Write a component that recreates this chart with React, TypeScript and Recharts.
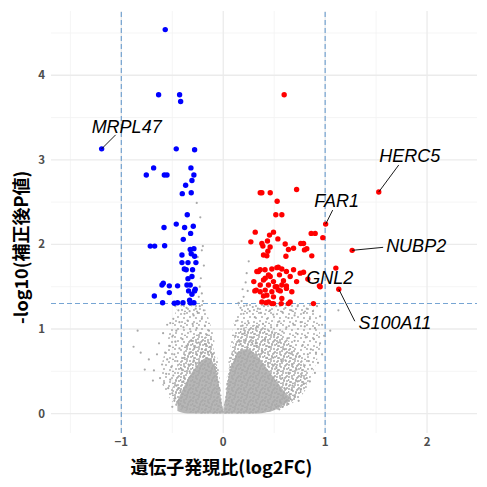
import React from 'react';
import { ComposedChart, Scatter, Area, XAxis, YAxis, ReferenceLine, CartesianGrid, Label } from 'recharts';

// cut-offs used for colouring and the dashed guide lines
const FC_CUTOFF = 1;
const P_CUTOFF = 0.05;

const xTicks = [-1, 0, 1, 2];
const yTicks = [0, 1, 2, 3, 4];
const xMinor = [-1.5, -0.5, 0.5, 1.5];
const yMinor = [0.5, 1.5, 2.5, 3.5, 4.5];

// [log2FC, -log10(padj)]
const downGenes: [number, number][] = [
  [-0.569, 4.54], [-0.634, 3.77], [-0.428, 3.77], [-0.418, 3.69], [-0.461, 3.13], [-0.281, 3.12],
  [-0.683, 2.905], [-0.755, 2.82], [-0.578, 2.82], [-0.552, 2.82], [-0.317, 2.905], [-0.288, 2.82],
  [-0.307, 2.755], [-0.369, 2.7], [-0.314, 2.61], [-0.402, 2.6], [-0.353, 2.35], [-0.461, 2.24],
  [-0.581, 2.2], [-0.379, 2.2], [-0.294, 2.215], [-0.32, 2.13], [-0.392, 2.06], [-0.716, 1.98],
  [-0.673, 1.98], [-0.575, 1.985], [-0.324, 1.94], [-0.288, 1.95], [-0.314, 1.89], [-0.405, 1.875],
  [-0.281, 1.86], [-0.405, 1.785], [-0.346, 1.785], [-0.268, 1.785], [-0.382, 1.71], [-0.363, 1.7],
  [-0.301, 1.7], [-0.307, 1.62], [-0.346, 1.595], [-0.588, 1.54], [-0.601, 1.52], [-0.529, 1.51],
  [-0.448, 1.51], [-0.356, 1.52], [-0.324, 1.52], [-0.34, 1.45], [-0.281, 1.45], [-0.275, 1.47],
  [-0.529, 1.43], [-0.676, 1.39], [-0.307, 1.41], [-0.595, 1.31], [-0.48, 1.305], [-0.448, 1.31],
  [-0.395, 1.31], [-0.324, 1.31], [-0.288, 1.31], [-0.33, 1.34],
];

const upGenes: [number, number][] = [
  [0.598, 3.77], [0.72, 2.65], [0.363, 2.61], [0.379, 2.61], [0.461, 2.61], [0.529, 2.51],
  [0.516, 2.35], [0.575, 2.35], [0.314, 2.145], [0.493, 2.145], [0.454, 2.11], [0.863, 2.13],
  [0.902, 2.13], [0.271, 2.03], [0.379, 2.01], [0.434, 2.04], [0.536, 2.065], [0.608, 2.005],
  [0.761, 2.01], [0.788, 2.01], [0.977, 2.08], [0.389, 1.98], [0.438, 1.92], [0.46, 1.97],
  [0.69, 1.955], [0.797, 1.935], [0.82, 1.95], [0.428, 1.865], [0.395, 1.875], [0.615, 1.86],
  [0.869, 1.865], [0.64, 1.94], [0.346, 1.68], [0.41, 1.7], [0.477, 1.71], [0.526, 1.725],
  [0.575, 1.71], [0.62, 1.68], [0.69, 1.7], [0.444, 1.64], [0.552, 1.64], [0.657, 1.62],
  [0.395, 1.58], [0.493, 1.56], [0.591, 1.57], [0.363, 1.52], [0.444, 1.52], [0.526, 1.5],
  [0.62, 1.51], [0.324, 1.46], [0.412, 1.46], [0.477, 1.44], [0.56, 1.45], [0.673, 1.44],
  [0.428, 1.4], [0.493, 1.38], [0.575, 1.36], [0.477, 1.3], [0.64, 1.3], [0.755, 1.66],
  [0.72, 1.56], [0.33, 1.68], [0.3, 1.56], [0.31, 1.45], [0.395, 1.39], [0.42, 1.31],
  [0.379, 1.32], [0.444, 1.32], [0.493, 1.3], [0.569, 1.3], [0.657, 1.32], [0.885, 1.3],
  [0.363, 1.7], [0.54, 1.73], [0.461, 1.62], [0.412, 1.6], [0.788, 1.67], [0.83, 1.59],
  [0.951, 1.5], [0.944, 1.51], [0.51, 1.5], [0.575, 1.52], [0.363, 1.44], [0.54, 1.46],
  [0.62, 1.48],
];

const otherGenes: [number, number][] = [
  // left lobe
  [-0.47, 1.27], [-0.44, 1.22], [-0.41, 1.28], [-0.38, 1.18], [-0.36, 1.25], [-0.33, 1.21],
  [-0.31, 1.28], [-0.29, 1.16], [-0.27, 1.24], [-0.25, 1.19], [-0.23, 1.27], [-0.21, 1.12],
  [-0.19, 1.22], [-0.43, 1.08], [-0.39, 1.02], [-0.35, 1.1], [-0.32, 0.97], [-0.3, 1.06],
  [-0.26, 1.01], [-0.22, 0.95], [-0.18, 1.04], [-0.16, 0.93], [-0.49, 1.12], [-0.46, 0.98],
  [-0.5, 0.91], [-0.14, 0.98], [-0.12, 0.88], [-0.6, 0.58], [-0.57, 0.72], [-0.55, 0.64],
  [-0.53, 0.8], [-0.51, 0.55], [-0.48, 0.7], [-0.47, 0.85], [-0.45, 0.62], [-0.43, 0.77],
  [-0.41, 0.53], [-0.4, 0.88], [-0.38, 0.66], [-0.36, 0.8], [-0.34, 0.58], [-0.33, 0.72],
  [-0.31, 0.86], [-0.29, 0.63], [-0.28, 0.78], [-0.26, 0.7], [-0.24, 0.84], [-0.23, 0.6],
  [-0.21, 0.76], [-0.19, 0.68], [-0.17, 0.82], [-0.15, 0.73], [-0.13, 0.79], [-0.11, 0.7],
  [-0.09, 0.64], [-0.08, 0.55], [-0.62, 0.42], [-0.58, 0.36], [-0.56, 0.47], [-0.54, 0.3],
  [-0.52, 0.4], [-0.5, 0.24], [-0.49, 0.45], [-0.47, 0.18], [-0.46, 0.33], [-0.44, 0.12],
  [-0.42, 0.27], [-0.4, 0.08], [-0.38, 0.42], [-0.84, 0.98], [-0.88, 0.79], [-0.81, 0.72],
  [-0.77, 0.52], [-0.68, 0.51], [-0.69, 0.39], [-0.73, 0.64], [-0.65, 0.7], [-0.63, 0.83],
  [-0.59, 0.95], [-0.55, 1.05], [-0.52, 1.07], [-0.5, 0.08], [-0.48, 0.15], [-0.44, 0.3],
  [-0.39, 0.38], [-0.33, 0.5], [-0.27, 0.6], [-0.22, 0.72], [-0.17, 0.75], [-0.12, 0.72],
  [-0.07, 0.5], [-0.04, 0.3],
  // small fold change but significant
  [-0.26, 2.49], [-0.225, 2.32], [-0.2, 1.98], [-0.21, 1.93], [-0.22, 1.6], [-0.23, 1.5],
  [-0.21, 1.42], [-0.24, 1.38], [-0.19, 1.75], [-0.2, 1.33], [-0.25, 1.85], [0.25, 1.8],
  [0.22, 1.55], [0.24, 1.45], [0.2, 1.38], [0.18, 1.33], [0.23, 1.66], [0.19, 1.47], [0.15, 1.31],
  // right lobe
  [0.17, 1.25], [0.2, 1.18], [0.23, 1.28], [0.26, 1.21], [0.29, 1.26], [0.31, 1.14], [0.34, 1.24],
  [0.37, 1.19], [0.4, 1.27], [0.43, 1.12], [0.46, 1.22], [0.49, 1.17], [0.52, 1.27], [0.55, 1.09],
  [0.58, 1.2], [0.61, 1.25], [0.64, 1.13], [0.67, 1.22], [0.7, 1.16], [0.73, 1.27], [0.76, 1.08],
  [0.79, 1.19], [0.82, 1.24], [0.85, 1.12], [0.88, 1.21], [0.92, 1.27], [0.95, 1.15], [0.14, 1.1],
  [0.19, 1.04], [0.25, 1.07], [0.33, 1.03], [0.39, 1.06], [0.47, 1.02], [0.53, 1.05], [0.62, 1.02],
  [0.69, 1.05], [0.8, 1.03], [0.9, 1.01], [0.97, 1.05], [1.13, 1.22], [1.05, 0.98], [0.12, 0.92],
  [0.16, 0.85], [0.21, 0.95], [0.24, 0.78], [0.28, 0.9], [0.32, 0.83], [0.36, 0.96], [0.41, 0.88],
  [0.45, 0.79], [0.5, 0.93], [0.54, 0.84], [0.58, 0.97], [0.6, 0.76], [0.63, 0.89], [0.66, 0.71],
  [0.7, 0.86], [0.73, 0.94], [0.75, 0.68], [0.78, 0.81], [0.81, 0.9], [0.84, 0.62], [0.86, 0.76],
  [0.89, 0.88], [0.93, 0.6], [0.95, 0.83], [0.99, 0.92], [0.68, 0.58], [0.72, 0.52], [0.77, 0.45],
  [0.8, 0.57], [0.87, 0.53], [0.64, 0.48], [0.57, 0.62], [0.49, 0.66], [0.35, 0.7], [0.3, 0.62],
  [0.44, 0.6], [0.52, 0.55], [0.61, 0.63], [0.83, 0.7], [0.91, 0.72], [0.97, 0.7], [0.6, 0.3],
  [0.65, 0.22], [0.68, 0.33], [0.7, 0.2], [0.73, 0.38], [0.76, 0.28], [0.79, 0.35], [0.82, 0.42],
  [0.85, 0.38], [0.74, 0.15], [0.63, 0.12], [0.58, 0.08], [0.55, 0.05], [0.9, 0.48], [0.04, 0.35],
  [0.07, 0.55], [0.12, 0.72], [0.17, 0.82], [0.22, 0.86], [0.28, 0.84], [0.33, 0.8], [0.38, 0.74],
  [0.43, 0.66], [0.48, 0.58], [0.53, 0.5], [0.58, 0.42], [0.62, 0.35], [0.67, 0.28], [0.56, 0.14],
  [0.6, 0.18], [0.66, 0.17], [0.52, 0.08],
];

// labelled genes
const labelGenes = ['MRPL47', 'HERC5', 'FAR1', 'NUBP2', 'GNL2', 'S100A11'];
const labelFC = [-1.193, 1.526, 1.005, 1.265, 1.105, 1.134];
const labelLogP = [3.13, 2.62, 2.24, 1.93, 1.72, 1.47];

// outlines of the non-significant bulk: sparse edge, busier middle, solid core
const cloudX = [-0.6, -0.55, -0.5, -0.45, -0.4, -0.3, -0.2, -0.15, -0.1, -0.05, -0.02, 0, 0.02, 0.05, 0.1, 0.15, 0.3, 0.45, 0.55, 0.65, 0.75, 0.85, 0.9, 0.95];
const cloudLow = [0.35, 0.22, 0.14, 0.07, 0.03, 0, 0, 0, 0, 0, 0, 0, 0, 0, 0, 0, 0, 0.02, 0.06, 0.12, 0.22, 0.4, 0.55, 0.75];
const cloudHigh = [0.6, 0.85, 1.1, 1.25, 1.3, 1.3, 1.3, 1.15, 0.95, 0.6, 0.25, 0.03, 0.25, 0.6, 1.05, 1.3, 1.3, 1.3, 1.3, 1.3, 1.3, 1.3, 1.2, 1.05];
const midX = [-0.5, -0.45, -0.35, -0.25, -0.15, -0.1, -0.05, -0.02, 0, 0.02, 0.05, 0.1, 0.15, 0.3, 0.45, 0.55, 0.65, 0.75, 0.82];
const midLow = [0.2, 0.08, 0.02, 0, 0, 0, 0, 0, 0, 0, 0, 0, 0, 0, 0.02, 0.05, 0.1, 0.18, 0.3];
const midHigh = [0.3, 0.55, 0.85, 0.95, 0.9, 0.8, 0.5, 0.2, 0.03, 0.2, 0.5, 0.85, 1.0, 1.05, 1.0, 0.95, 0.85, 0.7, 0.5];
const coreX = [-0.45, -0.4, -0.35, -0.3, -0.25, -0.2, -0.15, -0.1, -0.05, -0.02, 0, 0.02, 0.05, 0.1, 0.15, 0.2, 0.25, 0.3, 0.35, 0.4, 0.45, 0.5, 0.55, 0.6, 0.65];
const coreLow = [0.03, 0.01, 0, 0, 0, 0, 0, 0, 0, 0, 0, 0, 0, 0, 0, 0, 0, 0, 0, 0.01, 0.02, 0.04, 0.07, 0.11, 0.15];
const coreHigh = [0.15, 0.28, 0.4, 0.5, 0.58, 0.64, 0.66, 0.6, 0.4, 0.16, 0.03, 0.16, 0.42, 0.62, 0.72, 0.76, 0.76, 0.72, 0.66, 0.58, 0.5, 0.42, 0.34, 0.26, 0.2];

// where each gene name sits relative to its point (px)
const labelLayout: Record<string, { tx: number; ty: number; lx?: number; ly?: number }> = {
  MRPL47: { tx: 25, ty: -16, lx: 14, ly: -14 },
  HERC5: { tx: 31, ty: -30, lx: 20, ly: -27 },
  FAR1: { tx: 11, ty: -17, lx: 7, ly: -14 },
  NUBP2: { tx: 64, ty: 2, lx: 31, ly: -3 },
  GNL2: { tx: -6, ty: 16 },
  S100A11: { tx: 56, ty: 40, lx: 16, ly: 32 },
};

// speckle tiles used to texture the grey cloud
const sparseSpecks = [[1, 2], [7, 1], [4, 6], [10, 5], [2, 10], [8, 9], [5, 11.5]];
const denseSpecks = [[2, 1], [6, 3], [10, 1], [1, 5], [5, 7], [9, 6], [3, 10], [7, 11], [11, 9], [4, 4], [8, 8], [11, 4], [0.5, 8]];

const JP_FONT = '"Noto Sans CJK JP", "Noto Sans", sans-serif';
const LABEL_FONT = '"Liberation Sans", Arial, sans-serif';
const GREY = '#a9a9a9';
const GUIDE = '#5f95cb';

const toPoints = (list: [number, number][]) => list.map(([x, y]) => ({ x, y }));
const toRange = (xs: number[], lo: number[], hi: number[]) => xs.map((x, i) => ({ x, range: [lo[i], hi[i]] }));
const cloudData = toRange(cloudX, cloudLow, cloudHigh);
const midData = toRange(midX, midLow, midHigh);
const coreData = toRange(coreX, coreLow, coreHigh);
const labelData = labelGenes.map((gene, i) => ({ gene, x: labelFC[i], y: labelLogP[i] }));

const dot = (r: number, fill: string) => (p: any) => <circle cx={p.cx} cy={p.cy} r={r} fill={fill} />;

const LabelledDot = (p: any) => {
  const { cx, cy, payload } = p;
  const lay = labelLayout[payload.gene];
  return (
    <g>
      <circle cx={cx} cy={cy} r={2.7} fill={payload.x < 0 ? '#0000ff' : '#ff0000'} />
      {lay.lx !== undefined && (
        <line x1={cx} y1={cy} x2={cx + lay.lx} y2={cy + (lay.ly ?? 0)} stroke="#000" strokeWidth={0.9} />
      )}
      <text x={cx + lay.tx} y={cy + lay.ty} textAnchor="middle" fontFamily={LABEL_FONT} fontStyle="italic" fontSize={18} fill="#000">
        {payload.gene}
      </text>
    </g>
  );
};

const tickStyle = { fill: '#4d4d4d', fontSize: 11.5, fontWeight: 700, fontFamily: JP_FONT };

const XTitle = (p: any) => {
  const vb = p.viewBox;
  return (
    <text x={vb.x + vb.width * 0.4} y={vb.y + 41} textAnchor="middle" fontFamily={JP_FONT} fontWeight={700} fontSize={18} fill="#000">
      遺伝子発現比(log2FC)
    </text>
  );
};

const YTitle = (p: any) => {
  const vb = p.viewBox;
  const cx = 20;
  const cy = vb.y + vb.height * 0.56;
  return (
    <text x={cx} y={cy} transform={`rotate(-90 ${cx} ${cy})`} textAnchor="middle" dominantBaseline="central" fontFamily={JP_FONT} fontWeight={700} fontSize={18} fill="#000">
      -log10(補正後P値)
    </text>
  );
};

export default function App() {
  const pLine = -Math.log10(P_CUTOFF);
  return (
    <div style={{ position: 'absolute', left: 0, top: 0, width: 487, height: 487, background: '#fff' }}>
      <ComposedChart width={487} height={487} margin={{ top: 11, right: 10, bottom: 0, left: 0 }}>
        <defs>
          <pattern id="speckSparse" width={12} height={12} patternUnits="userSpaceOnUse">
            {sparseSpecks.map(([x, y], i) => <circle key={i} cx={x} cy={y} r={0.95} fill={GREY} />)}
          </pattern>
          <pattern id="speckDense" width={12} height={12} patternUnits="userSpaceOnUse">
            {denseSpecks.map(([x, y], i) => <circle key={i} cx={x} cy={y} r={1} fill={GREY} />)}
          </pattern>
        </defs>
        <CartesianGrid horizontalValues={yMinor} verticalValues={xMinor} stroke="#f3f3f3" strokeWidth={0.8} />
        <CartesianGrid horizontalValues={yTicks} verticalValues={xTicks} stroke="#ebebeb" strokeWidth={1.3} />
        <XAxis
          type="number"
          dataKey="x"
          domain={[-1.69, 2.49]}
          allowDataOverflow
          ticks={xTicks}
          tickFormatter={(v: number) => (v < 0 ? `−${Math.abs(v)}` : `${v}`)}
          axisLine={false}
          tickLine={false}
          tickSize={3}
          tickMargin={2}
          height={54}
          tick={tickStyle}
        >
          <Label content={XTitle} />
        </XAxis>
        <YAxis
          type="number"
          dataKey="y"
          domain={[-0.23, 4.76]}
          allowDataOverflow
          ticks={yTicks}
          axisLine={false}
          tickLine={false}
          tickSize={4}
          tickMargin={2}
          width={51}
          tick={tickStyle}
        >
          <Label content={YTitle} />
        </YAxis>

        <Area data={cloudData} dataKey="range" type="linear" stroke="none" fill="url(#speckSparse)" fillOpacity={1} dot={false} activeDot={false} isAnimationActive={false} />
        <Area data={midData} dataKey="range" type="linear" stroke="none" fill="url(#speckDense)" fillOpacity={1} dot={false} activeDot={false} isAnimationActive={false} />
        <Area data={coreData} dataKey="range" type="monotone" stroke="none" fill={GREY} fillOpacity={0.85} dot={false} activeDot={false} isAnimationActive={false} />
        <Scatter data={toPoints(otherGenes)} dataKey="y" shape={dot(1.1, GREY)} isAnimationActive={false} />

        <ReferenceLine x={-FC_CUTOFF} stroke={GUIDE} strokeOpacity={0.85} strokeWidth={1.2} strokeDasharray="5 3" />
        <ReferenceLine x={FC_CUTOFF} stroke={GUIDE} strokeOpacity={0.85} strokeWidth={1.2} strokeDasharray="5 3" />
        <ReferenceLine y={pLine} stroke={GUIDE} strokeOpacity={0.85} strokeWidth={1.2} strokeDasharray="5 3" />

        <Scatter data={toPoints(downGenes)} dataKey="y" shape={dot(2.7, '#0000ff')} isAnimationActive={false} />
        <Scatter data={toPoints(upGenes)} dataKey="y" shape={dot(2.7, '#ff0000')} isAnimationActive={false} />
        <Scatter data={labelData} dataKey="y" shape={LabelledDot} isAnimationActive={false} />
      </ComposedChart>
    </div>
  );
}
